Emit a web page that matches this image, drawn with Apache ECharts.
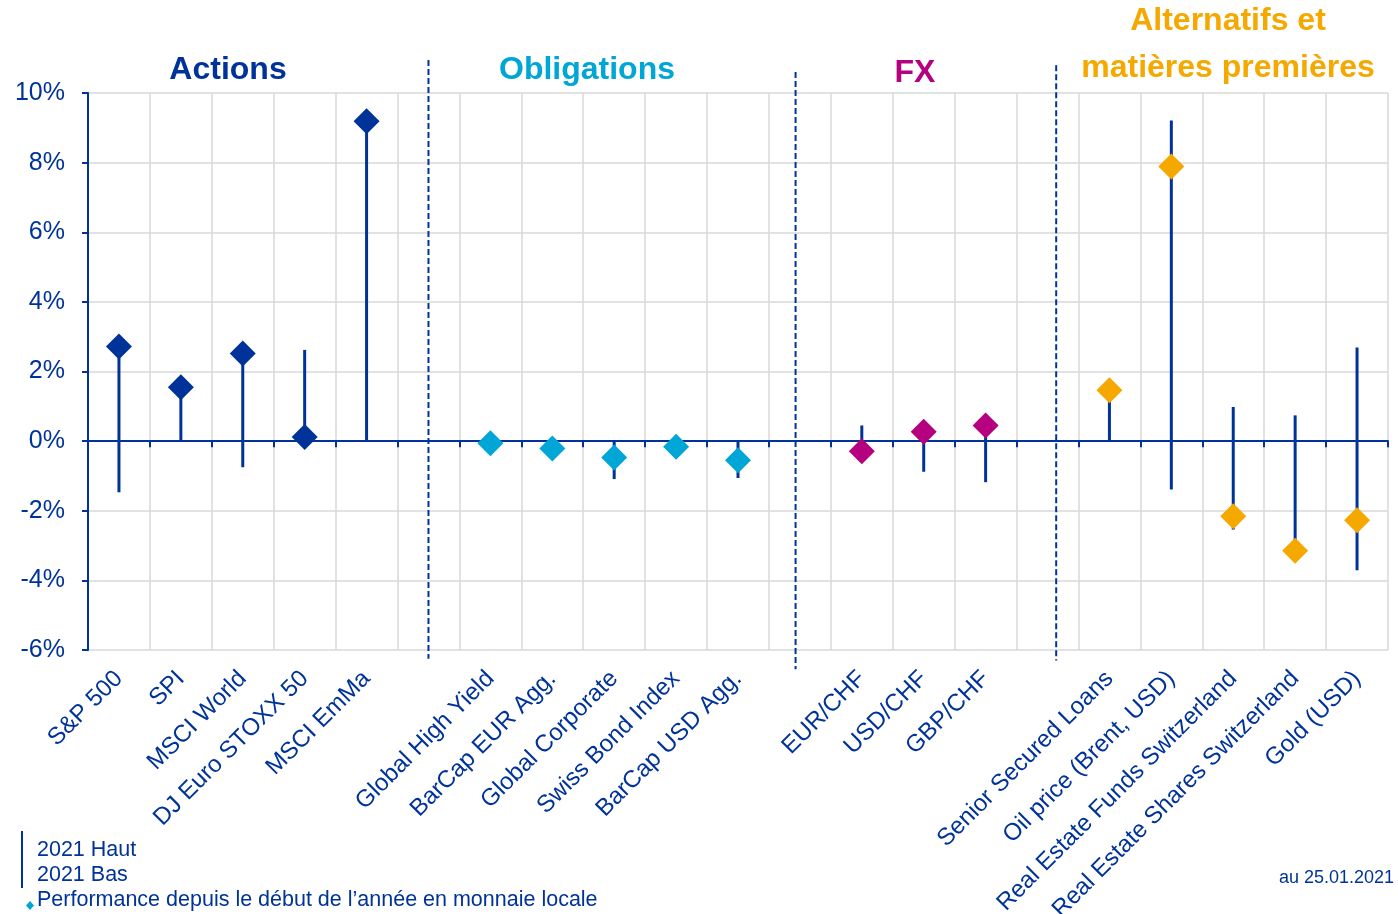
<!DOCTYPE html>
<html>
<head>
<meta charset="utf-8">
<script src="https://cdn.jsdelivr.net/npm/echarts@6/dist/echarts.min.js"></script>
<style>html,body{margin:0;padding:0;background:#fff;}#c{width:1398px;height:914px;}</style>
</head>
<body>
<div id="c"></div>
<script>
// Categories ('' = spacer between groups)
const categories = ['S&P 500','SPI','MSCI World','DJ Euro STOXX 50','MSCI EmMa','',
  'Global High Yield','BarCap EUR Agg.','Global Corporate','Swiss Bond Index','BarCap USD Agg.','',
  'EUR/CHF','USD/CHF','GBP/CHF','',
  'Senior Secured Loans','Oil price (Brent, USD)','Real Estate Funds Switzerland','Real Estate Shares Switzerland','Gold (USD)'];
// Group of each category (0 Actions, 1 Obligations, 2 FX, 3 Alternatifs, -1 spacer)
const groups = [0,0,0,0,0,-1, 1,1,1,1,1,-1, 2,2,2,-1, 3,3,3,3,3];
// Performance YTD (%)
const perf = [2.72,1.55,2.52,0.12,9.19,null, -0.06,-0.21,-0.47,-0.16,-0.55,null, -0.29,0.27,0.45,null, 1.46,7.89,-2.16,-3.15,-2.27];
// 2021 high (%)
const high = [2.72,1.55,2.52,2.62,9.19,null, null,null,0,null,0,null, 0.45,0.27,0.45,null, 1.46,9.21,0.98,0.74,2.69];
// 2021 low (%)
const low  = [-1.47,0,-0.75,0,0,null, null,null,-1.09,null,-1.06,null, -0.29,-0.88,-1.18,null, 0,-1.39,-2.54,-3.15,-3.71];
// Group titles and colours
const groupNames = ['Actions','Obligations','FX','Alternatifs et\nmatières premières'];
const groupColors = ['#003399','#00a6d6','#b5007f','#f5a800'];
// Group separators (position in category units, top and bottom in %)
const sepX = [5.5, 11.43, 15.64];
const sepTop = [10.95, 10.6, 10.8];
const sepBottom = [-6.25, -6.55, -6.3];
// Y ticks
const yMin = -6, yMax = 10, yStep = 2;

const navy = '#003399';
const font = 'Liberation Sans, Arial, sans-serif';

const chart = echarts.init(document.getElementById('c'), null, {renderer:'canvas'});

const rangeData = categories.map((c,i)=>[i, high[i], low[i]]).filter(d=>d[1]!==null && d[2]!==null);
const scatterSeries = groupNames.map((g,gi)=>({
  type:'scatter', xAxisIndex:0, yAxisIndex:0, z:5,
  symbol:'diamond', symbolSize:[26,26],
  itemStyle:{color:groupColors[gi], opacity:1},
  emphasis:{disabled:true},
  data: categories.map((c,i)=> groups[i]===gi && perf[i]!==null ? [i, perf[i]] : null).filter(d=>d)
}));

const option = {
  animation:false,
  backgroundColor:'#fff',
  textStyle:{fontFamily:font},
  grid:{left:88, right:10, top:93, bottom:264, containLabel:false, outerBoundsMode:'none'},
  xAxis:[
    {type:'category', data:categories, position:'bottom',
     axisLine:{show:false}, axisTick:{show:false},
     axisLabel:{rotate:45, interval:0, fontSize:24, color:navy, fontFamily:font, margin:25, hideOverlap:false},
     splitLine:{show:true, interval:0, lineStyle:{color:'#d9d9d9', width:1.5}}},
    {type:'category', data:categories, position:'bottom',
     axisLine:{show:true, onZero:true, onZeroAxisIndex:0, lineStyle:{color:navy, width:2}},
     axisTick:{show:true, interval:0, length:6, lineStyle:{color:navy, width:2}},
     axisLabel:{show:false}, splitLine:{show:false}},
    {type:'value', min:0, max:categories.length, show:false}
  ],
  yAxis:[{type:'value', min:yMin, max:yMax, interval:yStep,
    axisLine:{show:true, lineStyle:{color:navy, width:2}},
    axisTick:{show:true, length:6, lineStyle:{color:navy, width:2}},
    axisLabel:{formatter:'{value}%', fontSize:25, color:navy, fontFamily:font, margin:23},
    splitLine:{show:true, lineStyle:{color:'#d9d9d9', width:1.5}}}],
  series:[
    {type:'custom', xAxisIndex:0, yAxisIndex:0, z:3,
     data:rangeData,
     renderItem:function(params, api){
       const p1 = api.coord([api.value(0), api.value(1)]);
       const p2 = api.coord([api.value(0), api.value(2)]);
       return {type:'line', shape:{x1:p1[0], y1:p1[1], x2:p2[0], y2:p2[1]},
         style:{stroke:navy, lineWidth:3}};
     }},
    {type:'custom', xAxisIndex:2, yAxisIndex:0, z:4, clip:false,
     data: sepX.map((x,i)=>[x, sepTop[i], sepBottom[i]]),
     renderItem:function(params, api){
       const p1 = api.coord([api.value(0), api.value(1)]);
       const p2 = api.coord([api.value(0), api.value(2)]);
       return {type:'line', shape:{x1:p1[0], y1:p1[1], x2:p2[0], y2:p2[1]},
         style:{stroke:navy, lineWidth:2, lineDash:[6,3]}};
     }},
    ...scatterSeries
  ],
  graphic:[
    {type:'text', x:228, y:70, style:{text:groupNames[0], font:'bold 32px '+font, fill:groupColors[0], align:'center', verticalAlign:'middle'}},
    {type:'text', x:587, y:70, style:{text:groupNames[1], font:'bold 32px '+font, fill:groupColors[1], align:'center', verticalAlign:'middle'}},
    {type:'text', x:915, y:73, style:{text:groupNames[2], font:'bold 32px '+font, fill:groupColors[2], align:'center', verticalAlign:'middle'}},
    {type:'text', x:1228, y:45, style:{text:groupNames[3], font:'bold 32px '+font, fill:groupColors[3], align:'center', verticalAlign:'middle', lineHeight:47}},
    {type:'line', shape:{x1:22, y1:831, x2:22, y2:888}, style:{stroke:navy, lineWidth:2}},
    {type:'text', x:37, y:850, style:{text:'2021 Haut', font:'21.5px '+font, fill:navy, verticalAlign:'middle'}},
    {type:'text', x:37, y:875, style:{text:'2021 Bas', font:'21.5px '+font, fill:navy, verticalAlign:'middle'}},
    {type:'polygon', shape:{points:[[30,901],[34,905.5],[30,910],[26,905.5]]}, style:{fill:'#00a6d6'}},
    {type:'text', x:37, y:900, style:{text:'Performance depuis le début de l\u2019année en monnaie locale', font:'21.5px '+font, fill:navy, verticalAlign:'middle'}},
    {type:'text', x:1394, y:878, style:{text:'au 25.01.2021', font:'18px '+font, fill:navy, align:'right', verticalAlign:'middle'}}
  ]
};
chart.setOption(option);
</script>
</body>
</html>
